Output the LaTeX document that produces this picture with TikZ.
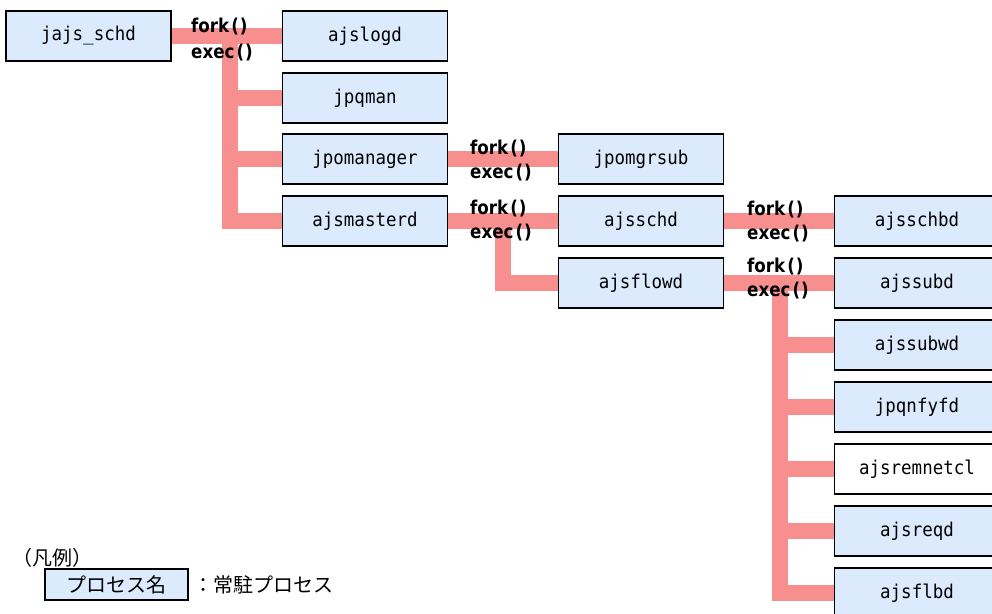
\documentclass[tikz,border=0pt]{standalone}
\usepackage{fontspec}
\usepackage{tikz}
\usetikzlibrary{backgrounds}
\newfontfamily\procfont{DejaVu Sans Mono}[FakeStretch=0.92]
\newfontfamily\callfont{DejaVu Sans}[FakeStretch=0.88]
\newfontfamily\jpfont{Noto Sans CJK JP}
\definecolor{procBlue}{RGB}{219,234,252}
\definecolor{pipePink}{RGB}{247,143,143}
\newcommand{\callname}[1]{#1\kern2pt(\kern1pt)}
\tikzset{
  proc/.style={draw=black, line width=1.6pt, fill=procBlue, minimum width=165pt, minimum height=50pt, inner sep=0pt, font=\procfont\fontsize{19}{21}\selectfont},
  pipe/.style={pipePink, line width=16pt},
  call/.style={anchor=base west, inner sep=0pt, font=\callfont\bfseries\fontsize{19}{21}\selectfont},
  legendtext/.style={anchor=west, inner sep=0pt, font=\jpfont\fontsize{20}{22}\selectfont}
}

\begin{document}
\begin{tikzpicture}[x=1pt, y=-1pt]
  \useasboundingbox (0,0) rectangle (992,613);

  % Draw processes, column by column
  \node[proc] (jajs) at (88.5,36) {jajs\_schd};

  \node[proc] (ajslogd) at (365,36) {ajslogd};
  \node[proc] (jpqman) at (365,98) {jpqman};
  \node[proc] (jpomanager) at (365,159) {jpomanager};
  \node[proc] (ajsmasterd) at (365,221) {ajsmasterd};

  \node[proc] (jpomgrsub) at (641,159) {jpomgrsub};
  \node[proc] (ajsschd) at (641,221) {ajsschd};
  \node[proc] (ajsflowd) at (641,283) {ajsflowd};

  \node[proc] (ajsschbd) at (917,221) {ajsschbd};
  \node[proc] (ajssubd) at (917,283) {ajssubd};
  \node[proc] (ajssubwd) at (917,345) {ajssubwd};
  \node[proc] (jpqnfyfd) at (917,407) {jpqnfyfd};
  \node[proc, fill=white] (ajsremnetcl) at (917,469) {ajsremnetcl};
  \node[proc] (ajsreqd) at (917,531) {ajsreqd};
  \node[proc] (ajsflbd) at (917,593) {ajsflbd};

  % fork()/exec() labels
  \node[call] (fork1) at (191,32) {\callname{fork}};
  \node[call] (exec1) at (191,58) {\callname{exec}};
  \node[call] (fork2) at (470,154) {\callname{fork}};
  \node[call] (exec2) at (470,178) {\callname{exec}};
  \node[call] (fork3) at (470,214) {\callname{fork}};
  \node[call] (exec3) at (470,238) {\callname{exec}};
  \node[call] (fork4) at (747,215) {\callname{fork}};
  \node[call] (exec4) at (747,239) {\callname{exec}};
  \node[call] (fork5) at (747,272) {\callname{fork}};
  \node[call] (exec5) at (747,296) {\callname{exec}};

  % Connectors
  \begin{scope}[on background layer]
    \draw[pipe] (jajs.east) -- (ajslogd.west);
    \coordinate (trunk1) at (230,36);
    \draw[pipe] (trunk1) |- (ajsmasterd.west);
    \foreach \n in {jpqman, jpomanager}
      \draw[pipe] (trunk1 |- \n.west) -- (\n.west);

    \draw[pipe] (jpomanager.east) -- (jpomgrsub.west);
    \draw[pipe] (ajsmasterd.east) -- (ajsschd.west);
    \coordinate (trunk2) at (503,221);
    \draw[pipe] (trunk2) |- (ajsflowd.west);

    \draw[pipe] (ajsschd.east) -- (ajsschbd.west);
    \draw[pipe] (ajsflowd.east) -- (ajssubd.west);
    \coordinate (trunk3) at (779.5,283);
    \draw[pipe] (trunk3) |- (ajsflbd.west);
    \foreach \n in {ajssubwd, jpqnfyfd, ajsremnetcl, ajsreqd}
      \draw[pipe] (trunk3 |- \n.west) -- (\n.west);
  \end{scope}

  % Legend
  \node[legendtext] (legendTitle) at (12,558) {（凡例）};
  \node[proc, minimum width=143pt, minimum height=31pt, font=\jpfont\fontsize{20}{22}\selectfont] (legendBox) at (116.5,584.5) {プロセス名};
  \node[legendtext] (legendText) at (193,585) {：常駐プロセス};
\end{tikzpicture}
\end{document}
